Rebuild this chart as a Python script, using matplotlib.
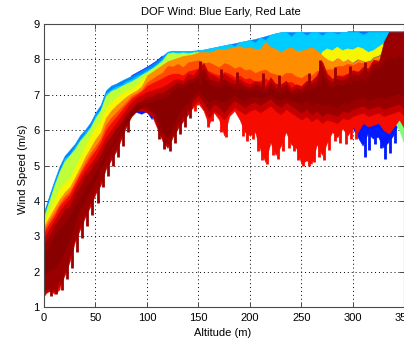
import numpy as np
import matplotlib
matplotlib.use("Agg")
import matplotlib.pyplot as plt

plt.rcParams['font.family'] = ['Liberation Sans', 'DejaVu Sans']

_ = np.nan

# altitude grid of the profiles (m)
altitude = list(range(0, 355, 5))

# position of each group of profiles within the run (0 = first, 1 = last)
group_time = [0.15, 0.26, 0.325, 0.505, 0.58, 0.65, 0.76, 0.83, 0.895, 0.94, 0.975, 0.99]

# upper envelope of all profiles (m/s)
top = [3.70, 4.15, 4.58, 4.98, 5.28, 5.45, 5.62, 5.86, 6.02, 6.22,
       6.50, 6.72, 7.12, 7.26, 7.32, 7.40, 7.47, 7.54, 7.62, 7.70,
       7.78, 7.87, 7.97, 8.10, 8.22, 8.25, 8.24, 8.24, 8.24, 8.25,
       8.26, 8.28, 8.31, 8.34, 8.37, 8.40, 8.43, 8.46, 8.49, 8.52,
       8.55, 8.58, 8.62, 8.66, 8.70, 8.74, 8.77, 8.78, 8.78, 8.78,
       8.78, 8.78, 8.78, 8.78, 8.78, 8.78, 8.78, 8.78, 8.78, 8.78,
       8.78, 8.78, 8.78, 8.78, 8.78, 8.78, 8.78, 8.78, 8.78, 8.78,
       8.78]

blue_hi = [_, _, _, _, _, _, _, _, _, _,
           _, _, _, _, _, _, _, 7.54, 7.62, 7.70,
           7.78, 7.87, 7.97, 8.10, _, _, _, _, _, _,
           _, _, _, _, _, _, _, _, _, _,
           _, _, _, _, _, _, _, _, _, _,
           _, _, _, _, _, _, _, _, _, 8.78,
           8.78, 8.78, 8.78, 8.78, 8.78, 8.78, 8.78, 8.78, 8.78, 8.78,
           8.78]
blue_lo = [_, _, _, _, _, _, _, _, _, _,
           _, _, _, _, _, _, _, 6.70, 6.50, 6.45,
           6.52, 6.30, 6.60, 6.80, _, _, _, _, _, _,
           _, _, _, _, _, _, _, _, _, _,
           _, _, _, _, _, _, _, _, _, _,
           _, _, _, _, _, _, _, _, _, 6.30,
           6.05, 5.80, 5.55, 5.90, 5.75, 5.80, 5.50, 5.65, 5.85, 6.20,
           6.40]

dodger_hi = top
dodger_lo = [3.56, 4.01, 4.44, 4.84, 5.14, 5.31, 5.48, 5.72, 5.88, 6.08,
             6.36, 6.58, 6.98, 7.12, 7.18, 7.26, 7.33, 7.40, 7.48, 7.56,
             7.64, 7.73, 7.83, 7.96, 8.12, 8.15, 8.15, 8.16, 8.15, 8.16,
             8.15, 8.20, 8.20, 8.22, 8.25, 8.28, 8.30, 8.30, 8.35, 8.38,
             8.40, 8.42, 8.45, 8.50, 8.52, 8.55, 8.58, 8.60, 8.60, 8.62,
             8.60, 8.62, 8.60, 8.62, 8.60, 8.62, 8.60, 8.60, 8.62, 8.60,
             8.60, 8.62, 8.60, 8.60, 8.62, 8.60, 8.62, 8.60, 8.62, 8.60,
             8.60]

cyan_hi = [3.62, 4.02, 4.50, 4.85, 5.20, 5.32, 5.54, 5.74, 5.94, 6.10,
           6.42, 6.60, 7.04, 7.15, 7.24, 7.28, 7.39, 7.44, 7.54, 7.60,
           7.70, 7.77, 7.89, 8.02, 8.20, 8.23, 8.22, 8.22, 8.22, 8.24,
           8.26, 8.28, 8.31, 8.34, 8.37, 8.40, 8.43, 8.38, 8.49, 8.52,
           8.55, 8.48, 8.62, 8.55, 8.70, 8.74, 8.77, 8.78, 8.65, 8.78,
           8.78, 8.68, 8.78, 8.78, 8.68, 8.78, 8.78, 8.72, 8.78, 8.78,
           8.78, 8.78, 8.70, 8.78, 8.78, 8.78, 8.78, 8.78, 8.78, 8.78,
           8.78]
cyan_lo = [3.50, 3.95, 4.38, 4.78, 5.08, 5.25, 5.42, 5.66, 5.82, 6.02,
           6.30, 6.52, 6.92, 7.06, 7.12, 7.20, 7.27, 7.34, 7.42, 7.52,
           7.60, 7.70, 7.80, 7.92, 8.12, 8.15, 8.12, 8.15, 8.12, 8.15,
           8.18, 8.20, 8.15, 8.22, 8.28, 8.25, 8.30, 8.32, 8.35, 8.28,
           8.30, 8.22, 8.28, 8.40, 8.30, 8.22, 8.15, 8.25, 8.30, 8.20,
           8.15, 8.25, 8.05, 8.20, 8.15, 8.25, 8.20, 8.30, 8.20, 8.25,
           8.22, 8.30, 8.25, 8.15, 8.20, 8.30, 8.40, 8.50, 8.50, 8.50,
           8.50]

green_hi = [_] * 68 + [6.30, 6.30, 6.30]
green_lo = [_] * 68 + [6.25, 6.00, 5.60]

yg_hi = [3.55, 4.00, 4.43, 4.83, 5.13, 5.30, 5.47, 5.71, 5.87, 6.07,
         6.35, 6.57, 6.97, 7.11, 7.17, 7.25, 7.32, 7.39, 7.47, 7.57,
         7.65, 7.75, 7.85, 7.97, 8.17, 8.20, 8.17, 8.20, 8.17, 8.20,
         8.22] + [_] * 40
yg_lo = [3.32, 3.65, 3.95, 4.25, 4.45, 4.55, 4.85, 5.15, 5.45, 5.75,
         6.00, 6.20, 6.55, 6.70, 6.85, 6.95, 7.05, 7.10, 7.20, 7.35,
         7.50, 7.60, 7.70, 7.80, 7.90, 7.95, 8.00, 8.05, 8.08, 8.12,
         8.18] + [_] * 40

yellow_hi = [3.37, 3.70, 4.00, 4.30, 4.50, 4.60, 4.90, 5.20, 5.50, 5.80,
             6.05, 6.25, 6.60, 6.75, 6.90, 7.00, 7.10, 7.15, 7.25, 7.40,
             7.55, _, _, _, _, _, _, _, _, _,
             _, _, _, _, _, _, _, _, _, _,
             _, _, _, _, _, _, _, _, _, _,
             _, _, _, _, 8.20, 8.30, 8.25, 8.35, 8.25, 8.30,
             8.27, 8.35, 8.30, 8.20, 8.25, 8.35, 8.45, 8.55, _, _,
             _]
yellow_lo = [3.25, 3.50, 3.75, 4.00, 4.20, 4.35, 4.62, 4.90, 5.20, 5.45,
             5.70, 5.90, 6.30, 6.50, 6.65, 6.78, 6.90, 7.00, 7.08, 7.20,
             7.45, _, _, _, _, _, _, _, _, _,
             _, _, _, _, _, _, _, _, _, _,
             _, _, _, _, _, _, _, _, _, _,
             _, _, _, _, 8.10, 8.00, 7.95, 8.05, 7.95, 8.00,
             7.90, 8.00, 7.95, 7.90, 8.05, 8.10, 8.20, 8.30, _, _,
             _]

orange_hi = [3.30, 3.55, 3.80, 4.05, 4.25, 4.40, 4.67, 4.95, 5.25, 5.50,
             5.75, 5.95, 6.35, 6.55, 6.70, 6.83, 6.95, 7.05, 7.13, 7.25,
             7.55, 7.65, 7.75, 7.85, 7.95, 8.00, 8.05, 8.10, 8.12, 8.15,
             8.20, 8.22, 8.20, 8.25, 8.30, 8.28, 8.32, 8.35, 8.38, 8.32,
             8.35, 8.30, 8.30, 8.50, 8.35, 8.30, 8.20, 8.30, 8.35, 8.25,
             8.25, 8.30, 8.35, 8.25, 8.12, 8.00, 7.95, 8.05, 7.95, 8.00,
             7.90, 8.00, 7.95, 7.90, 8.05, 8.10, 8.20, 8.30, 8.50, 8.50,
             8.50]
orange_lo = [3.15, 3.40, 3.62, 3.88, 4.08, 4.22, 4.50, 4.78, 5.05, 5.30,
             5.50, 5.72, 6.10, 6.30, 6.45, 6.60, 6.75, 6.92, 7.00, 7.10,
             7.30, 7.40, 7.50, 7.58, 7.70, 7.72, 7.75, 7.70, 7.80, 7.85,
             7.90, 7.80, 7.85, 7.75, 7.70, 7.80, 7.75, 7.65, 7.70, 7.60,
             7.60, 7.50, 7.55, 7.60, 7.50, 7.45, 7.40, 7.50, 7.50, 7.40,
             7.35, 7.45, 7.45, 7.55, 7.50, 7.60, 7.60, 7.70, 7.70, 7.75,
             7.75, 7.80, 7.80, 7.85, 7.85, 7.90, 7.90, 8.00, 8.00, 8.00,
             8.00]

orangered_hi = [3.20, 3.45, 3.67, 3.93, 4.13, 4.27, 4.55, 4.83, 5.10, 5.35,
                5.55, 5.77, 6.15, 6.35, 6.50, 6.65, 6.80, 6.97, 7.05, 7.15,
                7.35, 7.45, 7.55, 7.63, 7.82, 7.80, 7.88, 7.78, 7.92, 7.95,
                7.98, 7.90, 7.92, 7.85, 7.78, 7.90, 7.85, 7.75, 7.80, 7.70,
                7.72, 7.62, 7.68, 7.72, 7.62, 7.58, 7.52, 7.62, 7.62, 7.52,
                7.48, 7.58, 7.55, 7.68, 7.62, 7.72, 7.72, 7.82, 7.82, 7.88,
                7.85, 7.92, 7.90, 7.97, 7.95, 8.00, 8.00, 8.05, 8.05, 8.05,
                8.05]
orangered_lo = [3.05, 3.30, 3.52, 3.80, 3.98, 4.14, 4.42, 4.70, 4.95, 5.18,
                5.38, 5.62, 5.95, 6.15, 6.32, 6.50, 6.68, 6.85, 6.95, 7.05,
                7.20, 7.28, 7.35, 7.42, 7.50, 7.55, 7.55, 7.50, 7.62, 7.65,
                7.70, 7.62, 7.62, 7.55, 7.50, 7.60, 7.55, 7.45, 7.50, 7.40,
                7.42, 7.32, 7.35, 7.42, 7.30, 7.28, 7.22, 7.30, 7.32, 7.22,
                7.18, 7.25, 7.28, 7.35, 7.30, 7.42, 7.40, 7.50, 7.50, 7.55,
                7.55, 7.62, 7.60, 7.65, 7.65, 7.72, 7.70, 7.80, 7.80, 7.80,
                7.80]

red_hi = [3.10, 3.35, 3.57, 3.85, 4.03, 4.19, 4.47, 4.75, 5.00, 5.23,
          5.43, 5.67, 6.00, 6.20, 6.37, 6.55, 6.73, 6.90, 7.00, 7.10,
          7.25, 7.33, 7.40, 7.47, 7.55, 7.60, 7.60, 7.55, 7.67, 7.70,
          7.75, 7.67, 7.67, 7.60, 7.55, 7.65, 7.60, 7.50, 7.55, 7.45,
          7.47, 7.37, 7.40, 7.47, 7.35, 7.33, 7.27, 7.35, 7.37, 7.27,
          7.23, 7.30, 7.33, 7.40, 7.35, 7.47, 7.45, 7.55, 7.55, 7.60,
          7.60, 7.67, 7.65, 7.70, 7.70, 7.77, 7.75, 7.85, 7.85, 7.85,
          7.85]
red_lo = [1.32, 1.50, 1.38, 1.50, 2.20, 3.95, 4.25, 4.50, 4.75, 4.95,
          5.15, 5.40, 5.70, 5.90, 6.10, 6.30, 6.50, 6.70, 6.82, 6.90,
          6.98, 7.02, 7.08, 7.12, 5.70, 6.00, 6.20, 6.30, 6.50, 6.65,
          6.75, 6.55, 6.15, 6.50, 6.30, 5.85, 6.40, 6.55, 6.30, 5.95,
          5.85, 5.95, 5.45, 5.10, 5.65, 5.30, 5.55, 5.95, 5.60, 5.50,
          5.05, 5.15, 5.05, 5.60, 5.30, 5.65, 5.95, 5.80, 6.05, 5.85,
          6.10, 5.95, 6.20, 6.10, 6.15, 6.20, 6.00, 5.90, 6.10, 6.30,
          6.05]

dark1_hi = [2.95, 3.20, 3.45, 3.70, 3.90, 4.05, 4.35, 4.60, 4.85, 5.05,
            5.25, 5.50, 5.80, 6.00, 6.20, 6.40, 6.60, 6.80, 6.92, 7.00,
            7.08, 7.12, 7.18, 7.22, 7.30, 7.40, 7.45, 7.40, 7.60, 7.55,
            7.75, 7.90, 7.60, 7.55, 7.45, 7.60, 7.50, 7.40, 7.45, 7.35,
            7.30, 7.40, 7.35, 7.25, 7.50, 7.30, 7.30, 7.40, 7.20, 7.30,
            7.25, 7.40, 7.40, 7.55, 7.95, 7.60, 7.45, 7.55, 7.50, 7.60,
            7.70, 7.65, 7.80, 7.75, 8.00, 7.95, 8.10, 8.20, 8.30, 8.20,
            8.30]
dark1_lo = [1.40, 1.45, 1.45, 1.60, 1.90, 2.30, 2.85, 3.20, 3.55, 3.85,
            4.20, 4.45, 4.90, 5.15, 5.40, 5.75, 6.10, 6.40, 6.55, 6.55,
            6.50, 6.40, 6.05, 5.70, 5.50, 5.80, 6.05, 6.25, 6.45, 6.70,
            6.85, 6.60, 6.35, 6.55, 6.45, 6.30, 6.50, 6.65, 6.55, 6.45,
            6.55, 6.60, 6.50, 6.60, 6.70, 6.55, 6.45, 6.60, 6.50, 6.40,
            6.30, 6.40, 6.25, 6.35, 6.20, 6.30, 6.25, 6.20, 6.35, 6.30,
            6.40, 6.45, 6.50, 6.40, 6.45, 6.50, 6.40, 6.45, 6.50, 6.55,
            6.40]

dark2_hi = [2.80, 3.00, 3.30, 3.50, 3.75, 3.85, 4.20, 4.40, 4.70, 4.85,
            5.10, 5.30, 5.65, 5.80, 6.05, 6.20, 6.45, 6.60, 6.78, 6.82,
            6.95, 6.95, 7.05, 7.05, 7.15, 7.25, 7.35, 7.30, 7.45, 7.45,
            7.60, 7.75, 7.45, 7.40, 7.35, 7.45, 7.35, 7.30, 7.35, 7.25,
            7.20, 7.30, 7.25, 7.15, 7.35, 7.20, 7.20, 7.30, 7.10, 7.20,
            7.15, 7.30, 7.30, 7.40, 7.80, 7.45, 7.35, 7.45, 7.40, 7.50,
            7.60, 7.55, 7.70, 7.65, 7.90, 7.90, 8.50, 8.78, 8.78, 8.78,
            8.78]
dark2_lo = [1.45, 1.55, 1.50, 1.75, 2.00, 2.45, 2.95, 3.35, 3.65, 4.00,
            4.30, 4.60, 5.00, 5.30, 5.50, 5.90, 6.20, 6.50, 6.62, 6.62,
            6.58, 6.50, 6.20, 5.80, 5.60, 5.90, 6.20, 6.40, 6.60, 6.85,
            7.00, 6.80, 6.55, 6.75, 6.65, 6.50, 6.70, 6.85, 6.75, 6.65,
            6.75, 6.80, 6.70, 6.80, 6.90, 6.75, 6.65, 6.80, 6.70, 6.60,
            6.50, 6.60, 6.45, 6.55, 6.40, 6.50, 6.45, 6.40, 6.55, 6.50,
            6.60, 6.65, 6.70, 6.60, 6.65, 6.70, 6.60, 6.65, 6.70, 6.75,
            6.60]

dark3_hi = [2.55, 2.70, 3.00, 3.20, 3.40, 3.55, 3.85, 4.10, 4.40, 4.55,
            4.80, 5.05, 5.35, 5.55, 5.80, 5.95, 6.20, 6.40, 6.55, 6.65,
            6.75, 6.80, 6.85, 6.90, 6.95, 7.10, 7.20, 7.20, 7.30, 7.35,
            7.45, 7.55, 7.30, 7.25, 7.20, 7.30, 7.25, 7.15, 7.20, 7.15,
            7.10, 7.15, 7.10, 7.05, 7.20, 7.10, 7.05, 7.15, 7.00, 7.05,
            7.05, 7.15, 7.15, 7.25, 7.55, 7.30, 7.20, 7.30, 7.25, 7.35,
            7.40, 7.40, 7.50, 7.50, 7.70, 7.75, 7.90, 8.10, 8.00, 8.10,
            8.00]
dark3_lo = [1.90, 2.05, 2.10, 2.30, 2.60, 2.90, 3.40, 3.75, 4.05, 4.35,
            4.60, 4.90, 5.25, 5.50, 5.75, 6.05, 6.35, 6.60, 6.70, 6.72,
            6.68, 6.60, 6.35, 6.00, 5.80, 6.10, 6.45, 6.65, 6.80, 7.00,
            7.15, 6.95, 6.80, 6.90, 6.85, 6.80, 6.90, 7.00, 6.90, 6.85,
            6.95, 6.95, 6.90, 6.95, 7.00, 6.90, 6.85, 6.95, 6.85, 6.80,
            6.75, 6.85, 6.70, 6.80, 6.70, 6.75, 6.70, 6.65, 6.80, 6.75,
            6.85, 6.90, 6.95, 6.85, 6.90, 6.95, 6.90, 6.95, 7.00, 7.05,
            6.90]

# single-profile excursions below / above the envelopes
blue_dip_alt = [307, 312, 316, 322, 327, 331, 336, 341]
blue_dip_low = [5.75, 5.25, 5.45, 5.60, 5.50, 5.18, 5.35, 5.65]
blue_dip_high = [6.40, 6.40, 6.40, 6.40, 6.40, 6.40, 6.40, 6.40]

red_dip_alt = [147, 159, 163, 172, 177, 193, 197, 203, 208, 212,
               217, 222, 227, 232, 238, 243, 247, 252, 257, 262,
               267, 272, 277, 283, 288, 293, 298, 303]
red_dip_low = [6.55, 6.10, 6.25, 5.95, 5.80, 5.85, 5.70, 5.75, 5.40, 5.15,
               5.05, 5.30, 5.20, 5.40, 5.50, 5.40, 5.15, 4.98, 5.00, 5.10,
               5.25, 5.15, 5.45, 5.70, 5.65, 5.60, 5.75, 5.75]
red_dip_high = [7.10, 6.80, 6.90, 6.70, 6.60, 6.60, 6.50, 6.50, 6.30, 6.10,
                6.00, 6.20, 6.10, 6.30, 6.40, 6.30, 6.10, 6.00, 6.00, 6.10,
                6.20, 6.10, 6.30, 6.50, 6.50, 6.40, 6.50, 6.50]

dark_dip_alt = [7, 12, 17, 22, 27, 32, 37, 42, 47, 52, 57, 62,
                67, 72, 77, 82, 112, 117, 122, 127, 132, 137, 142]
dark_dip_low = [1.33, 1.38, 1.48, 1.80, 2.10, 2.55, 2.95, 3.30, 3.60, 3.95, 4.40, 4.70,
                5.00, 5.25, 5.55, 5.95, 5.75, 5.48, 5.42, 5.65, 5.90, 6.10, 6.35]
dark_dip_high = [1.90, 2.00, 2.10, 2.40, 2.70, 3.20, 3.60, 3.90, 4.20, 4.60, 5.00, 5.30,
                 5.60, 5.90, 6.20, 6.50, 6.40, 6.10, 6.00, 6.30, 6.50, 6.70, 6.90]

dark_peak_alt = [152, 172, 187, 213, 228, 257, 268, 283, 297, 312]
dark_peak_low = [7.30, 7.20, 7.20, 7.10, 7.10, 7.20, 7.30, 7.30, 7.30, 7.40]
dark_peak_high = [7.95, 7.72, 7.65, 7.62, 7.55, 7.62, 7.98, 7.78, 7.82, 7.92]

x_ticks = [0, 50, 100, 150, 200, 250, 300, 350]
y_ticks = [1, 2, 3, 4, 5, 6, 7, 8, 9]

envelopes = [
    (blue_lo, blue_hi), (dodger_lo, dodger_hi), (cyan_lo, cyan_hi),
    (green_lo, green_hi), (yg_lo, yg_hi), (yellow_lo, yellow_hi),
    (orange_lo, orange_hi), (orangered_lo, orangered_hi), (red_lo, red_hi),
    (dark1_lo, dark1_hi), (dark2_lo, dark2_hi), (dark3_lo, dark3_hi),
]
# excursions drawn right after the envelope of the same group
excursions = {
    0: (blue_dip_alt, blue_dip_low, blue_dip_high),
    8: (red_dip_alt, red_dip_low, red_dip_high),
    10: (dark_dip_alt, dark_dip_low, dark_dip_high),
}

fig = plt.figure(figsize=(4.04, 3.41), dpi=100)
ax = fig.add_axes([44 / 404, 33.7 / 341, 360.3 / 404, 283.3 / 341])

cmap = plt.get_cmap('jet')
alt = np.array(altitude, dtype=float)
for k, (t, (lo, hi)) in enumerate(zip(group_time, envelopes)):
    c = cmap(t)
    ax.fill_between(alt, np.array(lo, float), np.array(hi, float),
                    color=c, ec=c, lw=0.3, zorder=2)
    if k in excursions:
        xs, ylo, yhi = excursions[k]
        ax.vlines(xs, ylo, yhi, colors=[c], lw=2.0, zorder=2)
ax.vlines(dark_peak_alt, dark_peak_low, dark_peak_high,
          colors=[cmap(group_time[10])], lw=2.0, zorder=2)

ax.set_xlim(0, 350)
ax.set_ylim(1, 9)
ax.set_xticks(x_ticks)
ax.set_yticks(y_ticks)
ax.grid(True, color='k', linestyle=(0, (1, 3)), linewidth=0.7, zorder=0)
ax.set_axisbelow(True)

for s in ax.spines.values():
    s.set_color('#4a4a4a')
    s.set_linewidth(0.8)
ax.tick_params(direction='in', top=True, right=True, length=3.5, width=0.7,
               color='#4a4a4a', labelsize=8, labelcolor='black')
ax.tick_params(axis='y', pad=3)
ax.tick_params(axis='x', pad=4)

ax.set_title('DOF Wind: Blue Early, Red Late', fontsize=8, x=0.491,
             y=1.0424, va='center', pad=0)
ax.set_xlabel('Altitude (m)', fontsize=8)
ax.set_ylabel('Wind Speed (m/s)', fontsize=8)
ax.xaxis.set_label_coords(0.495, -0.0907)
ax.xaxis.label.set_va('center')
ax.yaxis.set_label_coords(-0.0583, 0.488)
ax.yaxis.label.set_va('center')

fig.savefig('out.png', dpi=100)
